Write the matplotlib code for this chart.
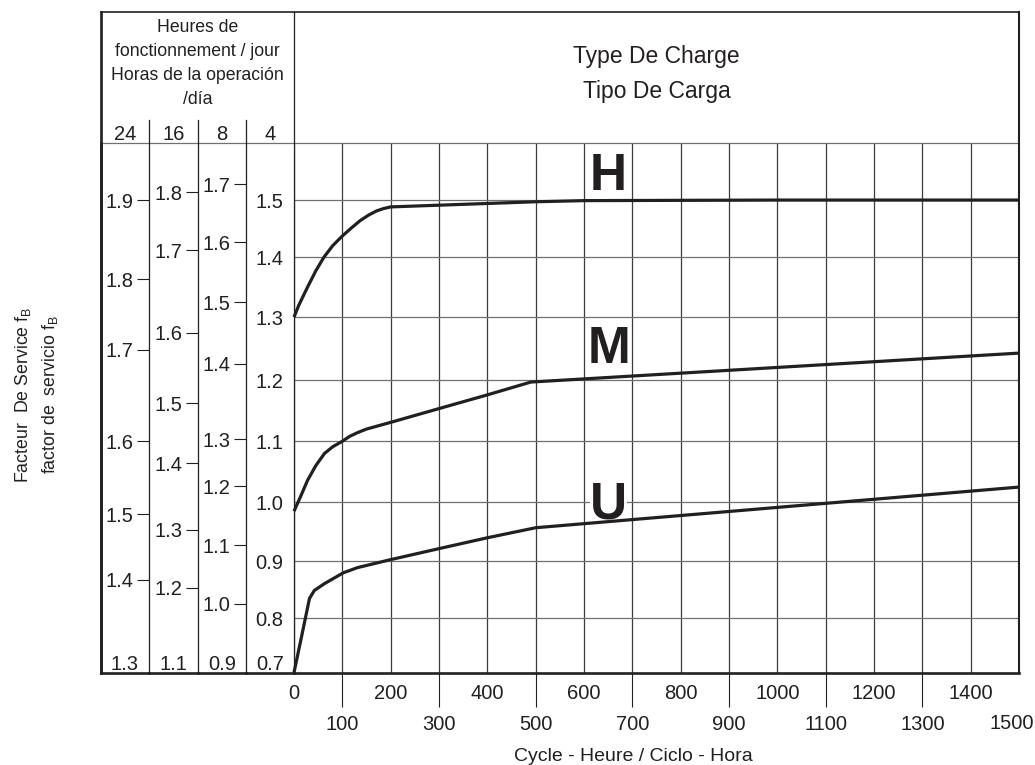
import numpy as np
import matplotlib
matplotlib.use("Agg")
import matplotlib.pyplot as plt
from matplotlib import font_manager

# ---------------- data ----------------
cycles_H = [0, 10, 28, 45, 62, 80, 100, 120, 137, 155, 171, 185, 200, 300, 400, 500, 600, 1000, 1500]
factor_H = [1.30, 1.32, 1.35, 1.377, 1.40, 1.420, 1.437, 1.452, 1.464, 1.474, 1.481, 1.485, 1.488,
            1.491, 1.494, 1.497, 1.499, 1.50, 1.50]

cycles_M = [0, 15, 28, 45, 63, 80, 100, 115, 131, 150, 200, 302, 400, 490, 1500]
factor_M = [0.985, 1.012, 1.036, 1.060, 1.080, 1.091, 1.100, 1.108, 1.114, 1.120, 1.131, 1.154,
            1.176, 1.197, 1.243]

cycles_U = [0, 16, 32, 42, 63, 102, 131, 200, 302, 400, 500, 1500]
factor_U = [0.70, 0.768, 0.835, 0.849, 0.861, 0.880, 0.889, 0.903, 0.922, 0.940, 0.957, 1.025]

load_types = ["H", "M", "U"]

# factor grid (4 h / day column) and drawn row heights of that grid
grid_values = [0.7, 0.8, 0.9, 1.0, 1.1, 1.2, 1.3, 1.4, 1.5, 1.6]
row_heights = [54, 57, 59, 61, 61, 63, 60, 57, 57]

hours = [24, 16, 8, 4]
h24_labels = [1.9, 1.8, 1.7, 1.6, 1.5, 1.4]
h24_at = [1.500, 1.363, 1.248, 1.100, 0.980, 0.868]
h16_labels = [1.8, 1.7, 1.6, 1.5, 1.4, 1.3, 1.2]
h16_at = [1.514, 1.412, 1.275, 1.162, 1.064, 0.954, 0.854]
h8_labels = [1.7, 1.6, 1.5, 1.4, 1.3, 1.2, 1.1, 1.0]
h8_at = [1.528, 1.426, 1.325, 1.226, 1.103, 1.026, 0.927, 0.826]
h4_labels = [0.8, 0.9, 1.0, 1.1, 1.2, 1.3, 1.4, 1.5]
bottom_labels = [1.3, 1.1, 0.9, 0.7]

cycle_upper = [0, 200, 400, 600, 800, 1000, 1200, 1400]
cycle_lower = [100, 300, 500, 700, 900, 1100, 1300, 1500]

# ---------------- fonts ----------------
names = {f.name for f in font_manager.fontManager.ttflist}
NARROW = "Liberation Sans Narrow" if "Liberation Sans Narrow" in names else "Liberation Sans"
REG = "Liberation Sans"
plt.rcParams["font.family"] = [NARROW, "DejaVu Sans"]
plt.rcParams["mathtext.fontset"] = "custom"
plt.rcParams["mathtext.rm"] = REG
plt.rcParams["mathtext.it"] = REG + ":italic"

NUM_FS = 14.5
DARK = "#231f20"
GRAYH = "#707070"
GRAYV = "#3c3c3c"

# ---------------- scale of factor axis ----------------
gv = np.array(grid_values, float)
gc = np.concatenate([[0.0], np.cumsum(row_heights)]).astype(float)


def _pw(v, xs, ys):
    v = np.asarray(v, float)
    out = np.interp(v, xs, ys)
    s0 = (ys[1] - ys[0]) / (xs[1] - xs[0])
    s1 = (ys[-1] - ys[-2]) / (xs[-1] - xs[-2])
    out = np.where(v < xs[0], ys[0] + (v - xs[0]) * s0, out)
    out = np.where(v > xs[-1], ys[-1] + (v - xs[-1]) * s1, out)
    return out


def fwd(v):
    return _pw(v, gv, gc)


def inv(c):
    return _pw(c, gc, gv)


# ---------------- layout (pixels) ----------------
W, H = 1035, 765
L, R, T, B = 101, 1019, 11.5, 672.5
X0, HDR = 294, 143
edges = [101, 149, 198, 246, 294]

fig = plt.figure(figsize=(W / 100, H / 100), dpi=100)
fig.patch.set_facecolor("white")


def rect(x0, x1):
    return [x0 / W, (H - B) / H, (x1 - x0) / W, (B - HDR) / H]


ax = fig.add_axes(rect(X0, R))
ax.set_xlim(0, 1500)
ax.set_yscale("function", functions=(fwd, inv))
ax.set_ylim(grid_values[0], grid_values[-1])
ax.set_axisbelow(True)

# x ticks: lower row with long ticks, upper row without
TICK_LEN, TICK_PAD = 24.5, 6.0
lower_lbls = [str(v) for v in cycle_lower[:-1]] + [""]
ax.set_xticks(cycle_lower, labels=lower_lbls)
ax.set_xticks(cycle_upper, labels=[str(v) for v in cycle_upper], minor=True)
ax.tick_params(axis="x", which="major", length=TICK_LEN, width=0.8, pad=TICK_PAD,
               direction="out", color=DARK, labelsize=NUM_FS, labelcolor=DARK)
ax.tick_params(axis="x", which="minor", length=0, pad=8.6,
               labelsize=NUM_FS, labelcolor=DARK)
ax.xaxis.get_major_ticks()[-1].tick1line.set_visible(False)
# last lower-row label, nudged left so it stays inside the picture
ax.annotate(str(cycle_lower[-1]), xy=(cycle_lower[-1], grid_values[0]),
            xytext=(-5, -(TICK_LEN + TICK_PAD - 0.6)), textcoords="offset points",
            ha="center", va="top", fontsize=NUM_FS, color=DARK,
            annotation_clip=False)

# y ticks (4 h column labels)
ax.set_yticks(h4_labels, labels=[f"{v:.1f}" for v in h4_labels])
ax.tick_params(axis="y", length=0, pad=7.6, labelsize=NUM_FS, labelcolor=DARK)

ax.grid(axis="x", which="both", color=GRAYV, lw=0.9)
ax.grid(axis="y", which="major", color=GRAYH, lw=0.9)

ax.spines["right"].set_visible(False)
ax.spines["left"].set_color(DARK)
ax.spines["left"].set_linewidth(0.9)
ax.spines["bottom"].set_color(DARK)
ax.spines["bottom"].set_linewidth(1.9)
ax.spines["top"].set_color(GRAYH)
ax.spines["top"].set_linewidth(0.9)

# curves
for xs, ys in [(cycles_H, factor_H), (cycles_M, factor_M), (cycles_U, factor_U)]:
    ax.plot(xs, ys, color=DARK, lw=2.3, solid_joinstyle="round",
            solid_capstyle="butt", zorder=4, clip_on=False)

# curve letters
letter_pos = {"H": 1.5175, "M": 1.227, "U": 0.973}
for lt in load_types:
    ax.text(651, letter_pos[lt], lt, ha="center", va="baseline",
            fontsize=37, fontweight="bold", color=DARK, family=NARROW, zorder=3,
            bbox=dict(boxstyle="square,pad=0", facecolor="white", edgecolor="none"))

ax.set_xlabel("Cycle - Heure / Ciclo - Hora", fontsize=14, color=DARK)
ax.xaxis.set_label_coords((633 - X0) / (R - X0), -(761 - B) / (B - HDR))
ax.xaxis.label.set_va("baseline")

# ---------------- hour columns ----------------
col_data = [(h24_labels, h24_at), (h16_labels, h16_at), (h8_labels, h8_at), ([], [])]
for i, (labs, ats) in enumerate(col_data):
    ac = fig.add_axes(rect(edges[i], edges[i + 1]))
    ac.set_xlim(0, 1)
    ac.set_yscale("function", functions=(fwd, inv))
    ac.set_ylim(grid_values[0], grid_values[-1])
    ac.set_xticks([])
    ac.set_yticks([])
    ac.set_facecolor("none")
    ac.spines["left"].set_visible(i == 0)
    ac.spines["left"].set_linewidth(1.9)
    ac.spines["left"].set_color(DARK)
    ac.spines["right"].set_visible(i < 3)
    ac.spines["right"].set_linewidth(0.9)
    ac.spines["right"].set_color(DARK)
    ac.spines["bottom"].set_linewidth(1.9)
    ac.spines["bottom"].set_color(DARK)
    ac.spines["top"].set_linewidth(0.9)
    ac.spines["top"].set_color(GRAYH)
    if labs:
        ac.hlines(ats, 0.76, 1.0, color=DARK, lw=0.8)
        for lab, at in zip(labs, ats):
            ac.text(0.68, at, f"{lab:.1f}", ha="right", va="center_baseline",
                    fontsize=NUM_FS, color=DARK)
    ac.annotate(f"{bottom_labels[i]:.1f}", xy=(0.5, grid_values[0]),
                xycoords=("axes fraction", "data"), xytext=(0, 1.8),
                textcoords="offset points", ha="center", va="baseline",
                fontsize=NUM_FS, color=DARK)

# ---------------- overlay: frame and header ----------------
ao = fig.add_axes([0, 0, 1, 1], zorder=10)
ao.set_xlim(0, W)
ao.set_ylim(H, 0)
ao.axis("off")
ao.patch.set_visible(False)

ao.plot([L, R], [T, T], color=DARK, lw=1.2, solid_capstyle="projecting")
ao.plot([L, L], [T, B], color=DARK, lw=1.9, solid_capstyle="projecting")
ao.plot([R, R], [T, B], color=DARK, lw=1.5, solid_capstyle="projecting")
ao.plot([X0, X0], [T, HDR], color=DARK, lw=0.9)
for e in edges[1:4]:
    ao.plot([e, e], [120, HDR], color=DARK, lw=0.9)

for i, h in enumerate(hours):
    ao.text((edges[i] + edges[i + 1]) / 2, 140, str(h), ha="center", va="baseline",
            fontsize=NUM_FS, color=DARK)

hdr_lines = ["Heures de", "fonctionnement / jour", "Horas de la operación", "/día"]
for txt, yb in zip(hdr_lines, [31.5, 55.5, 79.5, 103.5]):
    ao.text(197.5, yb, txt, ha="center", va="baseline", fontsize=12.7,
            family=REG, color=DARK)

ao.text((X0 + R) / 2, 62.5, "Type De Charge", ha="center", va="baseline",
        fontsize=16.5, family=REG, color=DARK)
ao.text((X0 + R) / 2, 97.5, "Tipo De Carga", ha="center", va="baseline",
        fontsize=16.5, family=REG, color=DARK)

ao.text(28, 395, r"Facteur  De Service $\mathrm{f_B}$", rotation=90,
        rotation_mode="anchor", ha="center", va="baseline", fontsize=12.8,
        family=REG, color=DARK)
ao.text(55, 395, r"factor de  servicio $\mathrm{f_B}$", rotation=90,
        rotation_mode="anchor", ha="center", va="baseline", fontsize=12.8,
        family=REG, color=DARK)

fig.savefig("out.png", dpi=100, facecolor="white")
